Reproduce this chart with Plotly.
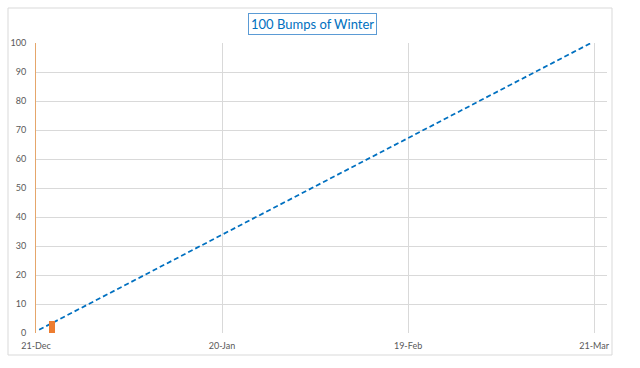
import plotly.graph_objects as go

# Data
bar_dates = ["2014-12-23 14:00"]
bar_values = [4]
goal_dates = ["2014-12-21 12:00", "2015-03-20 12:00"]
goal_values = [1.1, 100]
tick_dates = ["2014-12-21", "2015-01-20", "2015-02-19", "2015-03-21"]
tick_labels = ["21-Dec", "20-Jan", "19-Feb", "21-Mar"]
y_ticks = list(range(0, 101, 10))
title_text = "100 Bumps of Winter"

DAY_MS = 86400000
X_RANGE = ["2014-12-21", "2015-03-23 02:00"]

fig = go.Figure()
fig.add_trace(go.Scatter(x=goal_dates, y=goal_values, mode="lines",
                         line=dict(color="#0070C0", width=1.75, dash="5px,3px"),
                         showlegend=False, hoverinfo="skip"))
fig.add_trace(go.Bar(x=bar_dates, y=bar_values, width=[1.1 * DAY_MS],
                     marker=dict(color="#ED7D31", line=dict(width=0)),
                     showlegend=False, xaxis="x2", hoverinfo="skip"))

W, H = 640, 368
L, R, T, B = 36, 33, 43, 35
pw = W - L - R
ph = H - T - B

fig.update_layout(
    width=W, height=H,
    margin=dict(l=L, r=R, t=T, b=B, autoexpand=False),
    paper_bgcolor="white", plot_bgcolor="white",
    font=dict(family="Lato, Open Sans, sans-serif", size=9, color="#595959"),
    xaxis=dict(type="date", range=X_RANGE,
               tickmode="array", tickvals=tick_dates, ticktext=tick_labels,
               showgrid=True, gridcolor="#D9D9D9", gridwidth=1,
               zeroline=False, showline=False, ticks="", ticklabelstandoff=6,
               tickfont=dict(size=9, color="#595959")),
    xaxis2=dict(type="date", range=X_RANGE, overlaying="x", visible=False,
                showgrid=False, zeroline=False),
    yaxis=dict(range=[0, 100], tickmode="array", tickvals=y_ticks,
               showgrid=True, gridcolor="#D9D9D9", gridwidth=1,
               zeroline=False, showline=True, linecolor="#E5A66B", linewidth=1,
               ticks="", ticklabelstandoff=7,
               tickfont=dict(size=9, color="#595959")),
    bargap=0,
)

# outer chart border
fig.add_shape(type="rect", xref="paper", yref="paper",
              x0=(8 - L) / pw, x1=(612 - L) / pw,
              y0=(H - B - 355) / ph, y1=(H - B - 8) / ph,
              line=dict(color="#D9D9D9", width=1), layer="below")

# boxed title
fig.add_annotation(text=title_text, xref="paper", yref="paper",
                   x=(312 - L) / pw, y=(H - B - 23.5) / ph,
                   xanchor="center", yanchor="middle", showarrow=False,
                   font=dict(family="Lato, Open Sans, sans-serif", size=13, color="#0070C0"),
                   bordercolor="#5B9BD5", borderwidth=1, borderpad=2,
                   bgcolor="white")

fig.write_html("out.html", config={"displayModeBar": False},
               post_script="document.body.style.margin='0';")
